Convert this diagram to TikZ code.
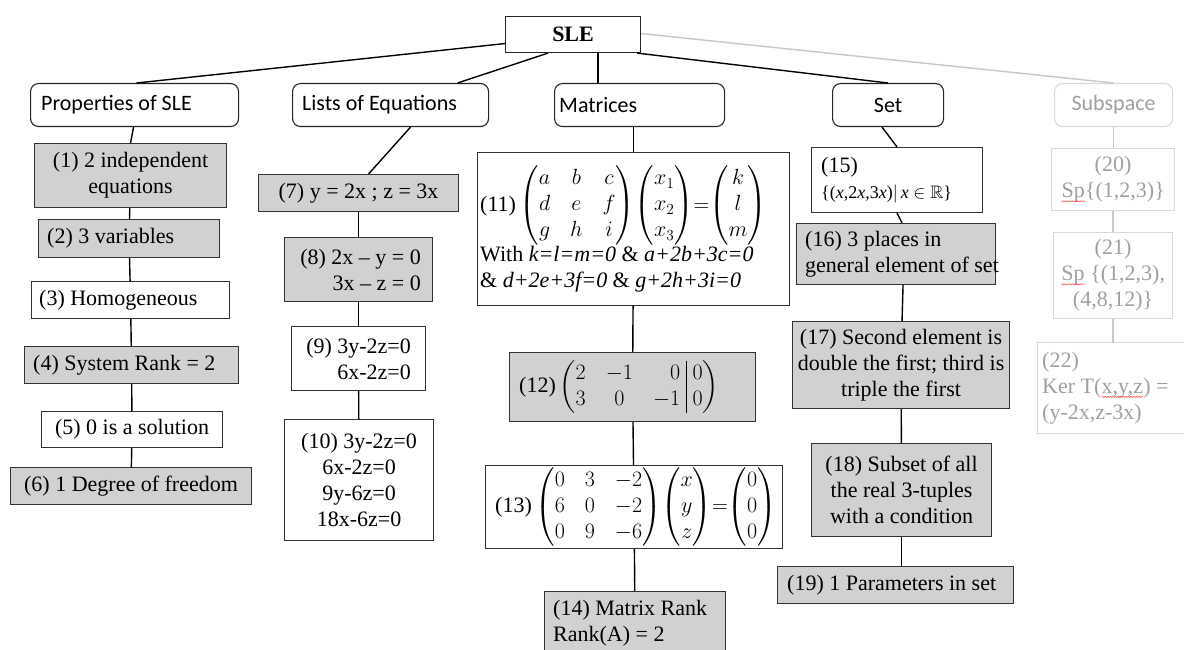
\RequirePackage{fix-cm}
\documentclass[tikz,border=0pt]{standalone}
\usepackage{amsmath,amssymb}
\usepackage{fontspec}
\setmainfont{Liberation Serif}
\newfontfamily\headfont{Carlito}
\usetikzlibrary{decorations.pathmorphing}

\definecolor{boxfill}{RGB}{209,209,209}
\definecolor{faint}{RGB}{160,160,160}
\definecolor{faintline}{RGB}{200,200,200}
\definecolor{faintedge}{RGB}{218,218,218}
\setlength{\arraycolsep}{10pt}

% red wavy spell-check underline
\newcommand\spellmark[1]{\tikz[baseline=(w.base)]{\node[inner sep=0pt, outer sep=0pt, anchor=base, align=none, text width=, draw=none, fill=none] (w) {#1};\draw[red!70, line width=0.5pt, decorate, decoration={snake,amplitude=0.7pt,segment length=2.6pt}] ([yshift=-3.5pt]w.base west) -- ([yshift=-3.5pt]w.base east);}}

\begin{document}
\begin{tikzpicture}[x=1pt, y=-1pt,
  every node/.style={font=\fontsize{22}{26}\selectfont},
  geom/.style 2 args={minimum width=#1pt, minimum height=#2pt, inner sep=0pt, anchor=north west},
  plain/.style={draw=black!85, line width=1.1pt, fill=white},
  head/.style={draw=black!85, line width=1.1pt, fill=white, rounded corners=8pt},
  headtxt/.style={inner sep=0pt, font=\headfont\fontsize{22}{26}\selectfont},
  gbox/.style={draw=black!80, line width=1.1pt, fill=boxfill},
  wbox/.style={draw=black!80, line width=1.1pt, fill=white},
  fbox/.style={draw=faintedge, line width=1.1pt, fill=white},
  txt/.style={inner sep=0pt},
  ftxt/.style={inner sep=0pt, text=faint},
  conn/.style={line width=1.4pt, black},
  fconn/.style={line width=1.4pt, faintline}]
\useasboundingbox (0,0) rectangle (1184,650);
\fill[white] (0,0) rectangle (1184,650);

% ---------- boxes ----------
\node[plain, geom={135}{36}] (sle) at (505,16) {};
\node[head, geom={208}{43}] (prop) at (30,83) {};
\node[head, geom={196}{43}] (lists) at (292,83) {};
\node[head, geom={170}{43}] (mat) at (554,83) {};
\node[head, geom={111}{43}] (set) at (832,83) {};
\node[head, draw=faintedge, geom={118}{43}] (sub) at (1054,83) {};

\node[gbox, geom={192}{64}] (n1) at (34,143) {};
\node[gbox, geom={181}{38}] (n2) at (38,219) {};
\node[wbox, geom={198}{37}] (n3) at (31,281) {};
\node[gbox, geom={214}{37}] (n4) at (24,346) {};
\node[wbox, geom={181}{36}] (n5) at (41,411) {};
\node[gbox, geom={241}{37}] (n6) at (10,467) {};

\node[gbox, geom={200}{37}] (n7) at (258,174) {};
\node[gbox, geom={148}{64}] (n8) at (284,237) {};
\node[wbox, geom={134}{64}] (n9) at (291,326) {};
\node[wbox, geom={149}{121}] (n10) at (284,419) {};

\node[wbox, geom={312}{153}] (n11) at (477,152) {};
\node[gbox, geom={246}{69}] (n12) at (509,352) {};
\node[wbox, geom={297}{83}] (n13) at (485,465) {};
\node[gbox, geom={181}{64}] (n14) at (544,591) {};

\node[wbox, geom={171}{65}] (n15) at (811,147) {};
\node[gbox, geom={199}{61}] (n16) at (796,223) {};
\node[gbox, geom={217}{87}] (n17) at (792,321) {};
\node[gbox, geom={180}{93}] (n18) at (811,443) {};
\node[gbox, geom={236}{37}] (n19) at (777,566) {};

\node[fbox, geom={123}{62}] (n20) at (1051,148) {};
\node[fbox, geom={119}{86}] (n21) at (1053,232) {};
\node[fbox, geom={160}{91}] (n22) at (1037,342) {};

% ---------- texts ----------
\node[txt, font=\fontsize{22}{26}\selectfont\bfseries] (tsle) at (sle.center) {SLE};
\node[headtxt, anchor=west] (tprop) at ([xshift=11pt]prop.west) {Properties of SLE};
\node[headtxt, anchor=west] (tlists) at ([xshift=10pt]lists.west) {Lists of Equations};
\node[headtxt, anchor=west] (tmat) at ([xshift=5pt]mat.west) {Matrices};
\node[headtxt] (tset) at (set.center) {Set};
\node[headtxt, text=faint] (tsub) at (sub.center) {Subspace};

\node[txt, align=center] (t1) at (n1.center) {(1) 2 independent\\equations};
\node[txt, anchor=west] (t2) at ([xshift=9pt]n2.west) {(2) 3 variables};
\node[txt, anchor=west] (t3) at ([xshift=8pt]n3.west) {(3) Homogeneous};
\node[txt, anchor=west] (t4) at ([xshift=9pt]n4.west) {(4) System Rank = 2};
\node[txt] (t5) at (n5.center) {(5) 0 is a solution};
\node[txt] (t6) at (n6.center) {(6) 1 Degree of freedom};

\node[txt] (t7) at (n7.center) {(7) y = 2x ; z = 3x};
\node[txt, align=right, anchor=east] (t8) at ([xshift=-12pt]n8.east) {(8) 2x – y = 0\\3x – z = 0};
\node[txt, align=right, anchor=east] (t9) at ([xshift=-15pt]n9.east) {(9) 3y-2z=0\\6x-2z=0};
\node[txt, align=center] (t10) at (n10.center) {(10) 3y-2z=0\\6x-2z=0\\9y-6z=0\\18x-6z=0};

\node[txt, align=left, anchor=west] (t11) at ([xshift=3pt]n11.west)
  {(11)\,$\begin{pmatrix}a&b&c\\d&e&f\\g&h&i\end{pmatrix}\!\begin{pmatrix}x_1\\x_2\\x_3\end{pmatrix}\!{=}\!\begin{pmatrix}k\\l\\m\end{pmatrix}$\\
   With \textit{k=l=m=0} \& \textit{a+2b+3c=0}\\
   \& \textit{d+2e+3f=0} \& \textit{g+2h+3i=0}};
\node[txt, anchor=west] (t12) at ([xshift=10pt]n12.west)
  {(12)\,$\left(\begin{array}{@{}ccr@{\;}|@{\;}c@{}}2&-1&0&0\\3&0&-1&0\end{array}\right)$};
\node[txt, anchor=west] (t13) at ([xshift=10pt]n13.west)
  {(13)\,$\begin{pmatrix}0&3&-2\\6&0&-2\\0&9&-6\end{pmatrix}\!\begin{pmatrix}x\\y\\z\end{pmatrix}\!{=}\!\begin{pmatrix}0\\0\\0\end{pmatrix}$};
\node[txt, align=left, anchor=west] (t14) at ([xshift=9pt]n14.west) {(14) Matrix Rank\\Rank(A) = 2};

\node[txt, align=left, anchor=west] (t15) at ([xshift=10pt]n15.west)
  {(15)\\{\fontsize{18}{22}\selectfont\{(\textit{x},2\textit{x},3\textit{x})$|$\,\textit{x} $\in\mathbb{R}$\}}};
\node[txt, align=left, anchor=west] (t16) at ([xshift=9pt]n16.west) {(16) 3 places in\\general element of set};
\node[txt, align=center] (t17) at (n17.center) {(17) Second element is\\double the first; third is\\triple the first};
\node[txt, align=center] (t18) at (n18.center) {(18) Subset of all\\the real 3-tuples\\with a condition};
\node[txt, anchor=west] (t19) at ([xshift=10pt]n19.west) {(19) 1 Parameters in set};

\node[ftxt, align=center] (t20) at (n20.center) {(20)\\\spellmark{Sp}\{(1,2,3)\}};
\node[ftxt, align=center] (t21) at (n21.center) {(21)\\\spellmark{Sp} \{(1,2,3),\\(4,8,12)\}};
\node[ftxt, align=left, anchor=west] (t22) at ([xshift=5pt]n22.west) {(22)\\Ker T(\spellmark{x,y,z}) =\\(y-2x,z-3x)};

% ---------- connectors from the root ----------
\draw[conn] ([yshift=-9pt]sle.west) -- ([xshift=2pt]prop.north);
\draw[conn] ([xshift=43pt]sle.south west) -- ([xshift=67pt]lists.north);
\draw[conn] ([xshift=25pt]sle.south) -- ([xshift=25pt]sle.south |- mat.north);
\draw[conn] ([xshift=-4pt]sle.south east) -- (set.north);
\draw[fconn] ([yshift=1pt]sle.east) -- (sub.north);

% properties chain
\draw[conn] ([xshift=-1pt]prop.south) -- (n1.north);
\draw[conn] (n1) -- (n2);
\draw[conn] (n2) -- (n3);
\draw[conn] (n3) -- (n4);
\draw[conn] (n4) -- (n5);
\draw[conn] (n5) -- (n6);

% lists chain
\draw[conn] ([xshift=20pt]lists.south) -- ([xshift=10pt]n7.north);
\draw[conn] (n7) -- (n8);
\draw[conn] (n8) -- (n9);
\draw[conn] (n9) -- (n10);

% matrices chain
\draw[conn] ([xshift=-6pt]mat.south) -- (n11.north);
\draw[conn] (n11) -- (n12);
\draw[conn] (n12) -- (n13);
\draw[conn] (n13) -- (n14);

% set chain
\draw[conn] ([xshift=-6pt]set.south) -- (n15.north);
\draw[conn] (n15.south) -- ([xshift=6pt]n16.north);
\draw[conn] ([xshift=7pt]n16.south) -- ([xshift=1pt]n17.north);
\draw[conn] (n17) -- (n18);
\draw[conn] (n18.south) -- (n18.south |- n19.north);

% subspace chain
\draw[fconn] (sub.south) -- (sub.south |- n20.north);
\draw[fconn] (n20) -- (n21);
\draw[fconn] (n21.south) -- (n21.south |- n22.north);
\end{tikzpicture}
\end{document}
